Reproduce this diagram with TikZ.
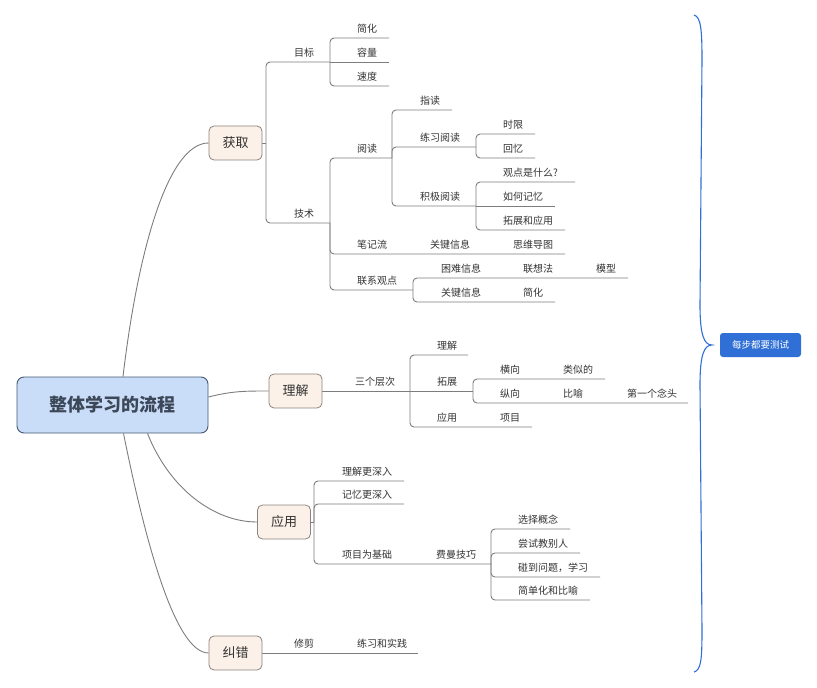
\documentclass[tikz,border=0pt]{standalone}
\usepackage{fontspec}
\newfontfamily\cjk{Noto Sans CJK SC}
\usetikzlibrary{backgrounds}
\definecolor{txt}{RGB}{51,51,51}
\definecolor{linec}{RGB}{125,125,125}
\definecolor{rootf}{RGB}{201,220,248}
\definecolor{rootb}{RGB}{70,88,115}
\definecolor{roott}{RGB}{60,72,88}
\definecolor{mainf}{RGB}{251,241,232}
\definecolor{mainb}{RGB}{140,130,125}
\definecolor{bluec}{RGB}{47,111,214}
\begin{document}
\begin{tikzpicture}[x=1pt,y=-1pt,
  lbl/.style={anchor=base west,inner sep=0pt,text=txt,font=\cjk\fontsize{10}{12}\selectfont},
  ln/.style={draw=linec,line width=0.9pt,rounded corners=4pt},
  curve/.style={draw=linec,line width=0.9pt},
  mainbox/.style={draw=mainb,fill=mainf,rounded corners=5pt,minimum width=53pt,minimum height=34pt,inner sep=0pt,text=txt,font=\cjk\fontsize{13}{15}\selectfont,line width=0.8pt},
  rootbox/.style={draw=rootb,fill=rootf,rounded corners=7pt,minimum width=191pt,minimum height=56pt,inner sep=0pt,text=roott,font=\cjk\bfseries\fontsize{18}{20}\selectfont,line width=0.9pt},
  testbox/.style={fill=bluec,rounded corners=3pt,minimum width=81pt,minimum height=24pt,inner sep=0pt,text=white,font=\cjk\fontsize{9.5}{11}\selectfont},
  brace/.style={draw=bluec,line width=1.1pt}]
\useasboundingbox (0,0) rectangle (817,688);

% main nodes
\node[rootbox] (root) at (112.5,405) {整体学习的流程};
\node[mainbox] (hq) at (235.5,143) {获取};
\node[mainbox] (lj) at (295.5,391) {理解};
\node[mainbox] (yy) at (284,522) {应用};
\node[mainbox] (jc) at (235.5,653) {纠错};
\node[testbox] (test) at (760.5,345) {每步都要测试};

% trunk coordinates
\coordinate (tA) at (266,143);
\coordinate (tMB) at (330,62);
\coordinate (tJS) at (330,223);
\coordinate (tYD) at (392,158);
\coordinate (tLX) at (476,147);
\coordinate (tJJ) at (476,206);
\coordinate (tLXG) at (413,290);
\coordinate (tSG) at (410,391);
\coordinate (tTZ) at (473,391);
\coordinate (tYY) at (314,522);
\coordinate (tFM) at (491,564);
\coordinate (tip) at (712,345);

% labels
\node[lbl] (mb) at (294,56) {目标};
\node[lbl] (jh1) at (357,32) {简化};
\node[lbl] (rl) at (357,56) {容量};
\node[lbl] (sd) at (357,80) {速度};
\node[lbl] (js) at (294,217) {技术};
\node[lbl] (yd) at (357,152) {阅读};
\node[lbl] (zd) at (420,104) {指读};
\node[lbl] (lxyd) at (420,141) {练习阅读};
\node[lbl] (jjyd) at (420,200) {积极阅读};
\node[lbl] (sx) at (503,128) {时限};
\node[lbl] (hy) at (503,152) {回忆};
\node[lbl] (gd) at (503,176) {观点是什么?};
\node[lbl] (rhjy) at (503,200) {如何记忆};
\node[lbl] (tzyy) at (503,224) {拓展和应用};
\node[lbl] (bjl) at (357,248) {笔记流};
\node[lbl] (gjxx1) at (430,248) {关键信息};
\node[lbl] (swdt) at (513,248) {思维导图};
\node[lbl] (lxgd) at (357,284) {联系观点};
\node[lbl] (knxx) at (441,272) {困难信息};
\node[lbl] (lxf) at (523,272) {联想法};
\node[lbl] (mx) at (596,272) {模型};
\node[lbl] (gjxx2) at (441,296) {关键信息};
\node[lbl] (jh2) at (523,296) {简化};
\node[lbl] (sgcc) at (355,385) {三个层次};
\node[lbl] (lj2) at (437,349) {理解};
\node[lbl] (tz) at (437,385) {拓展};
\node[lbl] (yy2) at (437,421) {应用};
\node[lbl] (xm) at (500,421) {项目};
\node[lbl] (hx) at (500,373) {横向};
\node[lbl] (lsd) at (563,373) {类似的};
\node[lbl] (zx) at (500,397) {纵向};
\node[lbl] (by) at (563,397) {比喻};
\node[lbl] (dygnt) at (627,397) {第一个念头};
\node[lbl] (ljgsr) at (342,475) {理解更深入};
\node[lbl] (jygsr) at (342,498) {记忆更深入};
\node[lbl] (xmwjc) at (342,558) {项目为基础};
\node[lbl] (fmjq) at (436,558) {费曼技巧};
\node[lbl] (xzgn) at (518,523) {选择概念};
\node[lbl] (csjbr) at (518,547) {尝试教别人};
\node[lbl] (pdwt) at (518,571) {碰到问题，学习};
\node[lbl] (jdh) at (518,594) {简单化和比喻};
\node[lbl] (xj) at (294,647) {修剪};
\node[lbl] (lxhsj) at (357,647) {练习和实践};

\begin{scope}[on background layer]
% curves from root
\draw[curve] ([xshift=10.5pt]root.north) .. controls (138,250) and (168,143) .. (hq.west);
\draw[curve] ([yshift=8pt]root.east) .. controls (232,391) and (245,391) .. (lj.west);
\draw[curve] ([xshift=35pt]root.south) .. controls (170,490) and (215,522) .. (yy.west);
\draw[curve] ([xshift=11pt]root.south) .. controls (145,540) and (175,653) .. (jc.west);

% 获取
\draw[ln] (hq.east) -- (tA);
\draw[ln] (tA) |- (tMB);
\draw[ln] (tA) |- (tJS);
\draw[ln] (tMB) |- (389,38);
\draw[ln] (tMB) -- (389,62);
\draw[ln] (tMB) |- (389,86);
\draw[ln] (tJS) |- (tYD);
\draw[ln] (tJS) |- (565,254);
\draw[ln] (tJS) |- (tLXG);
\draw[ln] (tYD) |- (452,110);
\draw[ln] (tYD) |- (tLX);
\draw[ln] (tYD) |- (tJJ);
\draw[ln] (tLX) |- (535,134);
\draw[ln] (tLX) |- (535,158);
\draw[ln] (tJJ) |- (575,182);
\draw[ln] (tJJ) -- (555,206);
\draw[ln] (tJJ) |- (565,230);
\draw[ln] (tLXG) |- (628,278);
\draw[ln] (tLXG) |- (555,302);

% 理解
\draw[ln] (lj.east) -- (tSG);
\draw[ln] (tSG) |- (468,355);
\draw[ln] (tSG) -- (tTZ);
\draw[ln] (tSG) |- (532,427);
\draw[ln] (tTZ) |- (605,379);
\draw[ln] (tTZ) |- (688,403);

% 应用
\draw[ln] (yy.east) -- (tYY);
\draw[ln] (tYY) |- (404,481);
\draw[ln] (tYY) |- (404,504);
\draw[ln] (tYY) |- (tFM);
\draw[ln] (tFM) |- (570,529);
\draw[ln] (tFM) |- (580,553);
\draw[ln] (tFM) |- (600,577);
\draw[ln] (tFM) |- (590,600);

% 纠错
\draw[ln] (jc.east) -- (418,653);

% brace
\draw[brace] (694,15) .. controls (701,17) and (702,30) .. (702,60)
  -- (700,305) .. controls (700,335) and (704,345) .. (tip)
  .. controls (704,345) and (700,355) .. (700,385)
  -- (702,630) .. controls (702,660) and (701,670) .. (694,672);
\end{scope}
\end{tikzpicture}
\end{document}
